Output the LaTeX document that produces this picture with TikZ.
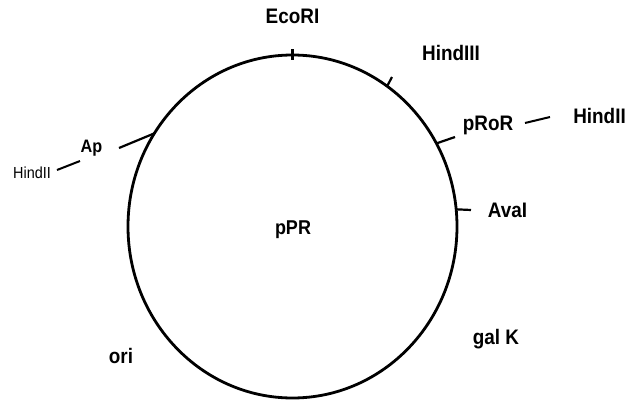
\documentclass[tikz,border=0pt]{standalone}
\usepackage{fontspec}
\setmainfont{Liberation Sans}
\newfontfamily\labfont[FakeStretch=0.9]{Liberation Sans}
\usetikzlibrary{shapes.geometric}
\begin{document}
\begin{tikzpicture}[x=1pt,y=-1pt,
  lbl/.style={font=\labfont\fontsize{21}{21}\selectfont\bfseries, inner sep=0pt, anchor=base},
  midlbl/.style={font=\labfont\fontsize{18}{18}\selectfont\bfseries, inner sep=0pt, anchor=base},
  sml/.style={font=\labfont\fontsize{16}{16}\selectfont, inner sep=0pt, anchor=base},
  ring/.style={draw, ellipse, line width=2.8pt, minimum width=329pt, minimum height=343pt, inner sep=0pt, outer sep=0pt},
  tickline/.style={line width=2.2pt},
  thinline/.style={line width=2pt},
]
\useasboundingbox (0,0) rectangle (630,402);
% plasmid ring
\node[ring] (plasmid) at (292.5,226.5) {};
% labels
\node[lbl] (eco) at (292.5,23) {EcoRI};
\node[lbl] (hindIII) at (451,60) {HindIII};
\node[lbl] (pror) at (488,130) {pRoR};
\node[lbl] (hindIIr) at (599.5,123) {HindII};
\node[lbl] (ava) at (507.5,217) {AvaI};
\node[midlbl] (ap) at (91.5,152) {Ap};
\node[sml] (hindIIl) at (32,178) {HindII};
\node[lbl, font=\labfont\fontsize{20}{20}\selectfont\bfseries] (ppr) at (293,234) {pPR};
\node[lbl] (ori) at (121,363) {ori};
\node[lbl] (galk) at (496,344) {gal K};
% tick ends
\coordinate (ecoT) at (292.5,49);
\coordinate (hindIIIT) at (392,77);
\coordinate (prorT) at (455,137);
\coordinate (avaT) at (471,210);
\coordinate (apT) at (119,148);
\coordinate (hlA) at (57,170);
\coordinate (hlB) at (80,161);
\coordinate (hrA) at (525,123);
\coordinate (hrB) at (550,117);
% ticks and connectors
\draw[tickline] (ecoT) -- ([yshift=-5pt]plasmid.90);
\draw[tickline] (plasmid.56) -- (hindIIIT);
\draw[tickline] (plasmid.30) -- (prorT);
\draw[tickline] (plasmid.6) -- (avaT);
\draw[tickline] (plasmid.146) -- (apT);
\draw[thinline] (hlA) -- (hlB);
\draw[thinline] (hrA) -- (hrB);
\end{tikzpicture}
\end{document}
